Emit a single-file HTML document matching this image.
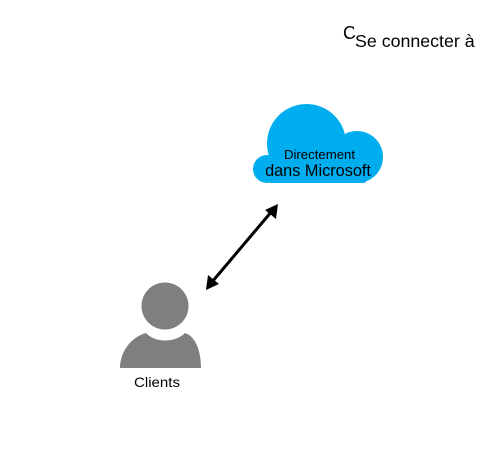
<!DOCTYPE html>
<html><head><meta charset="utf-8"><style>
html,body{margin:0;padding:0;background:#fff;}
body{width:489px;height:467px;position:relative;overflow:hidden;font-family:"Liberation Sans",sans-serif;}
svg{position:absolute;left:0;top:0;}
</style></head><body>
<svg width="489" height="467" viewBox="0 0 489 467">
<g fill="#00adef">
<circle cx="306.5" cy="143.5" r="39.5"/>
<circle cx="357" cy="157" r="26"/>
<circle cx="267" cy="169" r="14"/>
<rect x="267" y="155" width="100" height="28" rx="4"/>
</g>
<text x="319.5" y="159" font-size="13.2" text-anchor="middle" fill="#000">Directement</text>
<text x="318" y="176" font-size="16.3" text-anchor="middle" fill="#000">dans Microsoft</text>
<text x="343" y="39" font-size="18" fill="#000">C</text>
<rect x="354" y="24" width="125" height="8" fill="#fff"/>
<text x="355" y="47" font-size="17.8" fill="#000">Se connecter à</text>
<line x1="212" y1="282" x2="272" y2="211" stroke="#000" stroke-width="3"/>
<path d="M278,204 L276,219 L265,210 z" fill="#000"/>
<path d="M206,290 L208,275 L219,284 z" fill="#000"/>
<g fill="#7f7f7f">
<circle cx="165" cy="306" r="23.5"/>
<path d="M120,368 L201,368 C201,350 195,336 185,333 C175,343 155,343 146,333 C131,337 120,352 120,368 z"/>
</g>
<text x="157" y="387" font-size="14" text-anchor="middle" fill="#000" textLength="46" lengthAdjust="spacingAndGlyphs">Clients</text>
</svg>
</body></html>
